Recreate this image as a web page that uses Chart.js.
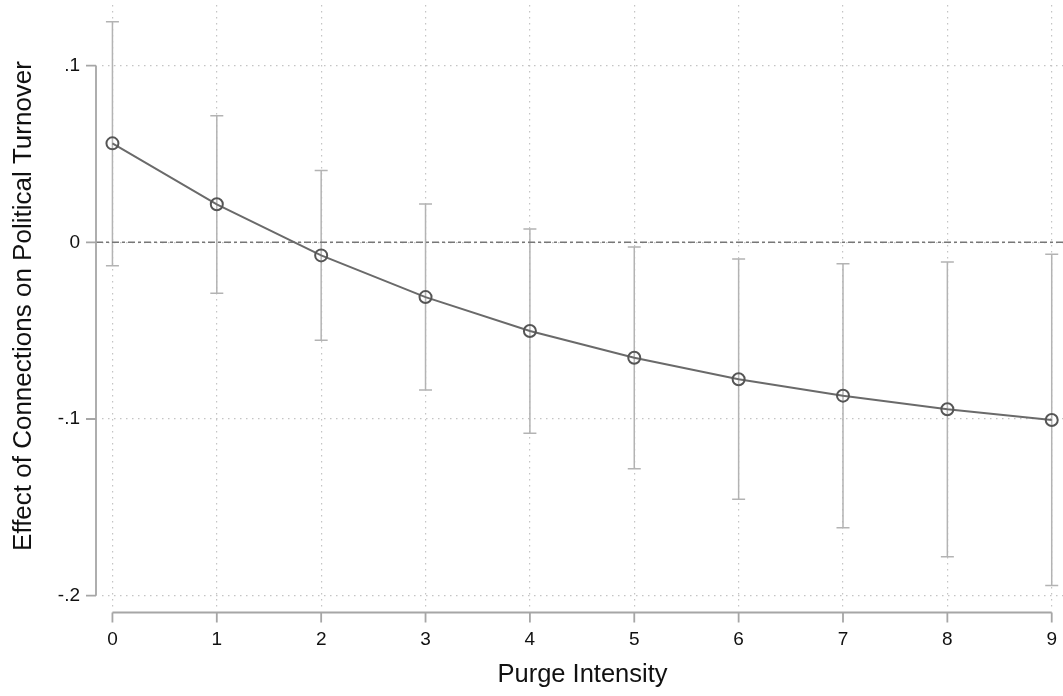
<!DOCTYPE html>
<html>
<head>
<meta charset="utf-8">
<script src="https://cdn.jsdelivr.net/npm/chart.js@4/dist/chart.umd.min.js"></script>
<style>
  html, body { margin: 0; padding: 0; background: #fff; overflow: hidden; }
  #wrap { width: 1063px; height: 696px; overflow: hidden; }
  canvas { display: block; }
</style>
</head>
<body>
<div id="wrap"><canvas id="c" width="1063" height="696" style="width:1063px;height:696px"></canvas></div>
<script>
const purgeIntensity = [0, 1, 2, 3, 4, 5, 6, 7, 8, 9];
const effect   = [0.056, 0.0215, -0.0074, -0.031, -0.0502, -0.0653, -0.0775, -0.0868, -0.0945, -0.1006];
const ciUpper  = [0.1248, 0.0716, 0.0407, 0.0217, 0.0075, -0.0027, -0.0095, -0.0121, -0.0111, -0.0068];
const ciLower  = [-0.0132, -0.0289, -0.0555, -0.0836, -0.1081, -0.1281, -0.1454, -0.1615, -0.1779, -0.1943];
const xTickValues = [0, 1, 2, 3, 4, 5, 6, 7, 8, 9];
const yTickValues = [-0.2, -0.1, 0, 0.1];
const yTickLabels = ['-.2', '-.1', '0', '.1'];
const xTitle = 'Purge Intensity';
const yTitle = 'Effect of Connections on Political Turnover';

const FONT = "'Liberation Sans', Arial, Helvetica, sans-serif";

const stataPlugin = {
  id: 'stata',
  beforeDatasetsDraw(chart) {
    const ctx = chart.ctx;
    const xs = chart.scales.x, ys = chart.scales.y;
    const ca = chart.chartArea;
    // error bars
    ctx.save();
    ctx.strokeStyle = '#b3b3b3';
    ctx.lineWidth = 1.5;
    purgeIntensity.forEach((v, i) => {
      const px = xs.getPixelForValue(v);
      const pt = ys.getPixelForValue(ciUpper[i]);
      const pb = ys.getPixelForValue(ciLower[i]);
      ctx.beginPath();
      ctx.moveTo(px, pt); ctx.lineTo(px, pb);
      ctx.moveTo(px - 6.5, pt); ctx.lineTo(px + 6.5, pt);
      ctx.moveTo(px - 6.5, pb); ctx.lineTo(px + 6.5, pb);
      ctx.stroke();
    });
    // zero reference line
    const y0 = ys.getPixelForValue(0);
    ctx.strokeStyle = '#777';
    ctx.lineWidth = 1.6;
    ctx.setLineDash([7, 3, 3, 3]);
    ctx.beginPath();
    ctx.moveTo(ca.left - 6, y0); ctx.lineTo(ca.right, y0);
    ctx.stroke();
    ctx.restore();
  },
  afterDraw(chart) {
    const ctx = chart.ctx;
    const xs = chart.scales.x, ys = chart.scales.y;
    ctx.save();
    ctx.strokeStyle = '#a6a6a6';
    ctx.lineWidth = 1.8;
    // y axis line and ticks
    const ax = 96;
    ctx.beginPath();
    ctx.moveTo(ax, ys.getPixelForValue(yTickValues[0]));
    ctx.lineTo(ax, ys.getPixelForValue(yTickValues[yTickValues.length - 1]));
    yTickValues.forEach(v => {
      const p = ys.getPixelForValue(v);
      ctx.moveTo(ax, p); ctx.lineTo(ax - 10, p);
    });
    ctx.stroke();
    // x axis line and ticks
    const ay = 612.5;
    ctx.beginPath();
    ctx.moveTo(xs.getPixelForValue(xTickValues[0]), ay);
    ctx.lineTo(xs.getPixelForValue(xTickValues[xTickValues.length - 1]), ay);
    xTickValues.forEach(v => {
      const p = xs.getPixelForValue(v);
      ctx.moveTo(p, ay); ctx.lineTo(p, ay + 10);
    });
    ctx.stroke();
    ctx.restore();
  }
};

new Chart(document.getElementById('c'), {
  type: 'line',
  data: {
    datasets: [{
      data: purgeIntensity.map((x, i) => ({ x: x, y: effect[i] })),
      borderColor: '#6a6a6a',
      borderWidth: 2,
      pointRadius: 6,
      pointBorderWidth: 2,
      pointBorderColor: '#555',
      pointBackgroundColor: 'rgba(0,0,0,0)',
      tension: 0,
      fill: false,
      clip: false
    }]
  },
  options: {
    responsive: false,
    animation: false,
    devicePixelRatio: 1,
    layout: { autoPadding: false, padding: { top: 5, right: 0, left: 0, bottom: 0 } },
    plugins: { legend: { display: false }, tooltip: { enabled: false } },
    scales: {
      x: {
        type: 'linear',
        min: -0.1,
        max: 9.108,
        afterBuildTicks: s => { s.ticks = xTickValues.map(v => ({ value: v })); },
        afterFit: s => { s.height = 89; s.paddingLeft = 0; s.paddingRight = 0; },
        grid: { color: '#c4c4c4', lineWidth: 1.2, drawTicks: true, tickLength: 21, tickColor: 'rgba(0,0,0,0)' },
        border: { display: false, dash: [1.5, 4.5] },
        ticks: { padding: 0, color: '#111', font: { family: FONT, size: 19 }, callback: v => String(v) },
        title: { display: true, text: xTitle, color: '#111', font: { family: FONT, size: 25.5 }, padding: { top: 0, bottom: 6 } }
      },
      y: {
        type: 'linear',
        min: -0.2064,
        max: 0.1343,
        afterBuildTicks: s => { s.ticks = yTickValues.map(v => ({ value: v })); },
        afterFit: s => { s.width = 102; s.paddingTop = 0; s.paddingBottom = 0; },
        grid: { color: '#c4c4c4', lineWidth: 1.2, drawTicks: true, tickLength: 22, tickColor: 'rgba(0,0,0,0)' },
        border: { display: false, dash: [1.5, 4.5] },
        ticks: {
          padding: 0, color: '#111', font: { family: FONT, size: 19, lineHeight: 0.4 },
          callback: v => { const i = yTickValues.findIndex(t => Math.abs(t - v) < 1e-9); return i >= 0 ? yTickLabels[i] : ''; }
        },
        title: { display: true, text: yTitle, color: '#111', font: { family: FONT, size: 26 }, padding: { top: 8, bottom: 0 } }
      }
    }
  },
  plugins: [stataPlugin]
});
</script>
</body>
</html>
